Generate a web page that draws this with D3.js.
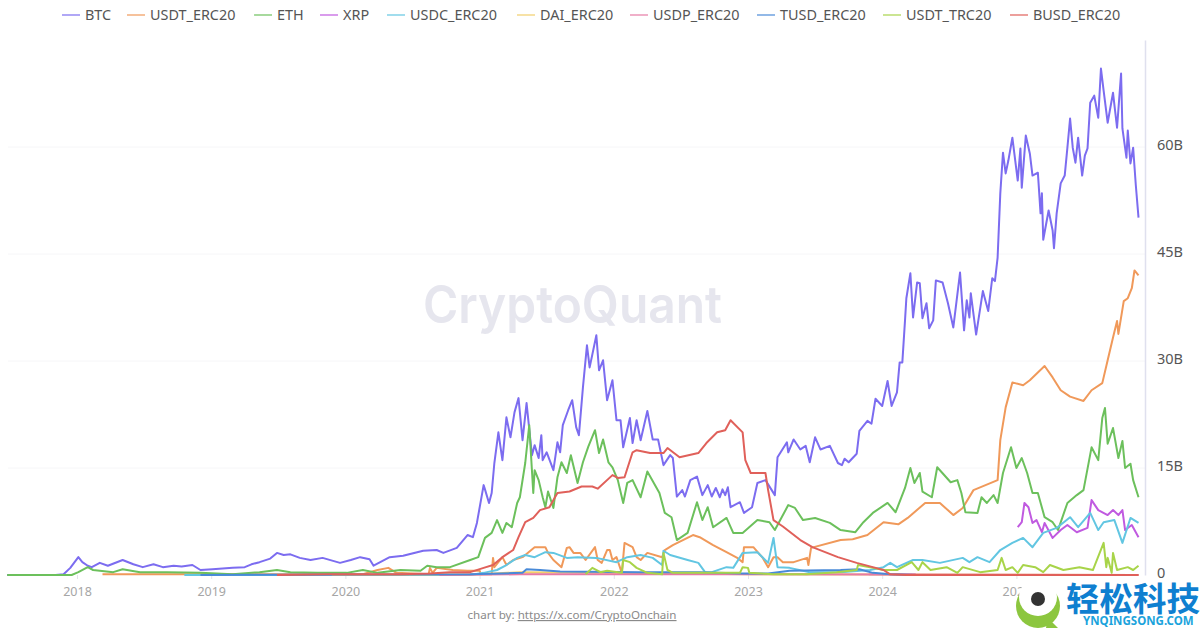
<!DOCTYPE html>
<html>
<head>
<meta charset="utf-8">
<script src="https://d3js.org/d3.v7.min.js"></script>
<style>
  html, body { margin: 0; padding: 0; background: #fff; }
  text { font-family: "Noto Sans", "Open Sans", sans-serif; }
</style>
</head>
<body>
<svg id="plot" width="1200" height="628"></svg>
<script>
// [year, billions]
const btc = [[2017.48,0],[2017.84,0],[2017.90,0.1],[2017.95,1.0],[2018.01,2.5],[2018.04,1.8],[2018.08,1.3],[2018.11,1.1],[2018.17,1.7],[2018.23,1.3],[2018.34,2.1],[2018.42,1.5],[2018.49,1.1],[2018.57,1.5],[2018.64,1.1],[2018.72,1.3],[2018.78,1.2],[2018.86,1.4],[2018.92,0.7],[2019.01,0.8],[2019.16,1.0],[2019.25,1.1],[2019.30,1.5],[2019.36,1.8],[2019.44,2.3],[2019.49,3.1],[2019.54,2.8],[2019.59,2.9],[2019.66,2.4],[2019.74,2.1],[2019.83,2.4],[2019.96,1.7],[2020.04,2.1],[2020.11,2.5],[2020.18,2.2],[2020.21,1.3],[2020.33,2.5],[2020.43,2.7],[2020.58,3.4],[2020.68,3.5],[2020.73,3.1],[2020.83,3.8],[2020.91,5.6],[2020.95,5.3],[2020.98,7.3],[2021.03,12.6],[2021.04,12.0],[2021.07,10.1],[2021.09,11.5],[2021.11,15.7],[2021.14,20.0],[2021.17,16.1],[2021.20,22.1],[2021.23,19.3],[2021.26,22.8],[2021.29,24.8],[2021.32,18.9],[2021.35,24.1],[2021.39,16.8],[2021.41,18.2],[2021.44,16.4],[2021.46,19.6],[2021.47,16.1],[2021.50,17.2],[2021.55,14.7],[2021.58,18.6],[2021.60,17.2],[2021.62,21.0],[2021.66,23.1],[2021.69,24.5],[2021.72,20.7],[2021.74,19.6],[2021.77,26.3],[2021.80,32.2],[2021.82,29.1],[2021.87,33.6],[2021.89,28.7],[2021.92,30.1],[2021.95,24.5],[2021.99,27.3],[2022.02,21.7],[2022.05,21.7],[2022.07,17.9],[2022.12,22.0],[2022.14,18.5],[2022.17,21.7],[2022.20,18.9],[2022.25,23.0],[2022.29,19.0],[2022.33,19.0],[2022.37,15.4],[2022.42,16.8],[2022.44,16.4],[2022.47,11.0],[2022.51,11.9],[2022.53,11.0],[2022.57,13.3],[2022.62,13.8],[2022.66,11.2],[2022.70,12.6],[2022.73,11.0],[2022.76,12.2],[2022.79,10.9],[2022.81,12.0],[2022.83,11.2],[2022.85,12.3],[2022.87,9.5],[2022.94,10.2],[2022.97,8.7],[2023.03,9.5],[2023.07,12.9],[2023.13,13.3],[2023.20,11.2],[2023.22,16.5],[2023.29,18.6],[2023.30,17.2],[2023.34,19.0],[2023.39,17.6],[2023.43,18.1],[2023.46,15.8],[2023.50,19.3],[2023.54,17.6],[2023.61,18.1],[2023.67,15.7],[2023.70,15.4],[2023.72,16.3],[2023.75,15.8],[2023.78,16.4],[2023.81,17.0],[2023.83,20.2],[2023.89,21.6],[2023.92,21.2],[2023.95,24.7],[2024.00,23.7],[2024.04,27.2],[2024.07,23.7],[2024.11,25.6],[2024.13,29.8],[2024.15,29.8],[2024.17,35.7],[2024.18,38.8],[2024.21,42.3],[2024.23,36.1],[2024.26,41.0],[2024.28,40.9],[2024.30,36.0],[2024.33,38.1],[2024.35,34.6],[2024.38,35.7],[2024.40,41.3],[2024.45,41.0],[2024.49,38.1],[2024.53,34.7],[2024.58,42.4],[2024.61,34.3],[2024.63,38.5],[2024.65,36.1],[2024.66,39.5],[2024.70,33.7],[2024.75,39.8],[2024.79,37.0],[2024.82,41.6],[2024.84,41.2],[2024.86,44.5],[2024.88,53.5],[2024.90,59.2],[2024.92,56.3],[2024.94,58.1],[2024.97,61.3],[2025.01,55.3],[2025.03,59.8],[2025.04,54.3],[2025.07,61.6],[2025.10,59.1],[2025.12,56.0],[2025.16,56.4],[2025.18,50.7],[2025.19,53.5],[2025.20,47.0],[2025.24,51.1],[2025.27,48.3],[2025.28,45.8],[2025.30,50.7],[2025.33,54.9],[2025.36,56.0],[2025.38,59.9],[2025.40,64.0],[2025.42,59.9],[2025.44,57.8],[2025.46,61.3],[2025.49,56.0],[2025.51,58.8],[2025.53,59.8],[2025.55,66.2],[2025.58,67.2],[2025.61,64.1],[2025.63,71.0],[2025.65,67.9],[2025.68,63.4],[2025.72,67.6],[2025.75,62.7],[2025.78,70.3],[2025.79,62.6],[2025.82,58.5],[2025.83,62.3],[2025.85,57.7],[2025.87,59.9],[2025.89,54.6],[2025.91,50.1]];

const usdtErc = [[2018.19,0.1],[2018.37,0.1],[2020.10,0.1],[2020.13,0.1],[2020.24,0.7],[2020.32,1.0],[2020.38,0.3],[2020.62,0.1],[2020.63,1.0],[2020.65,0.3],[2020.68,1.0],[2020.80,0.7],[2020.91,0.6],[2021.00,0.6],[2021.01,0.1],[2021.09,0.1],[2021.10,2.4],[2021.11,1.1],[2021.17,2.5],[2021.20,1.4],[2021.25,2.1],[2021.32,2.5],[2021.41,3.9],[2021.49,3.9],[2021.51,3.1],[2021.55,2.1],[2021.61,1.1],[2021.65,3.8],[2021.67,3.9],[2021.70,3.1],[2021.75,3.1],[2021.79,2.1],[2021.86,3.9],[2021.88,2.1],[2021.91,1.7],[2021.95,3.5],[2021.97,3.5],[2021.99,2.1],[2022.02,2.5],[2022.06,0.3],[2022.08,4.5],[2022.14,3.9],[2022.17,2.5],[2022.20,2.1],[2022.25,3.1],[2022.36,2.5],[2022.38,3.5],[2022.44,4.2],[2022.59,5.6],[2022.64,5.3],[2022.74,4.2],[2022.84,3.2],[2022.92,2.4],[2022.96,1.8],[2022.97,3.9],[2023.04,3.9],[2023.11,2.4],[2023.15,1.1],[2023.19,2.5],[2023.22,2.5],[2023.26,1.8],[2023.34,1.8],[2023.44,2.4],[2023.45,1.4],[2023.47,3.8],[2023.69,4.9],[2023.78,5.0],[2023.89,5.6],[2024.01,7.4],[2024.12,7.1],[2024.19,8.0],[2024.32,10.1],[2024.43,10.1],[2024.53,8.4],[2024.60,9.4],[2024.68,11.9],[2024.86,13.3],[2024.88,18.9],[2024.92,23.5],[2024.97,27.0],[2025.05,26.6],[2025.10,27.3],[2025.21,29.3],[2025.27,27.7],[2025.33,25.9],[2025.40,25.0],[2025.50,24.4],[2025.56,25.9],[2025.64,26.9],[2025.68,30.1],[2025.72,33.3],[2025.75,35.6],[2025.76,33.8],[2025.80,38.4],[2025.83,38.8],[2025.86,40.2],[2025.88,42.7],[2025.91,42.0]];

const eth = [[2017.48,0],[2017.96,0],[2018.01,0.4],[2018.08,1.1],[2018.12,0.7],[2018.27,0.4],[2018.34,0.8],[2018.47,0.4],[2018.67,0.4],[2018.92,0.3],[2019.16,0.1],[2019.36,0.4],[2019.49,0.7],[2019.59,0.4],[2019.79,0.3],[2020.01,0.3],[2020.13,0.7],[2020.24,0.3],[2020.41,0.7],[2020.56,0.6],[2020.61,1.3],[2020.68,1.1],[2020.78,1.1],[2020.93,2.1],[2020.99,2.5],[2021.04,5.2],[2021.09,5.9],[2021.13,7.7],[2021.17,5.9],[2021.20,7.3],[2021.24,6.7],[2021.28,10.1],[2021.30,10.9],[2021.34,15.7],[2021.37,21.0],[2021.40,11.5],[2021.41,14.7],[2021.44,13.3],[2021.47,10.9],[2021.49,9.5],[2021.51,11.7],[2021.55,9.4],[2021.58,13.7],[2021.61,15.8],[2021.65,14.3],[2021.68,16.8],[2021.73,12.9],[2021.77,15.8],[2021.81,18.0],[2021.86,20.3],[2021.89,17.1],[2021.92,19.0],[2021.96,15.8],[2021.99,15.1],[2022.03,13.3],[2022.07,10.1],[2022.10,12.9],[2022.14,13.3],[2022.20,10.9],[2022.25,14.5],[2022.34,11.5],[2022.38,8.7],[2022.43,8.1],[2022.47,4.9],[2022.55,5.9],[2022.62,10.2],[2022.66,7.7],[2022.70,9.5],[2022.74,6.7],[2022.84,8.0],[2022.89,5.9],[2022.96,5.9],[2023.07,7.7],[2023.16,7.4],[2023.20,6.3],[2023.30,9.8],[2023.35,9.4],[2023.41,7.7],[2023.50,8.0],[2023.61,7.3],[2023.69,6.3],[2023.80,6.0],[2023.86,7.4],[2023.93,8.7],[2024.04,10.1],[2024.10,8.8],[2024.17,12.2],[2024.21,15.0],[2024.24,12.9],[2024.28,14.3],[2024.30,11.7],[2024.37,10.9],[2024.41,15.1],[2024.51,13.0],[2024.56,13.3],[2024.59,11.5],[2024.62,8.8],[2024.71,8.7],[2024.74,10.9],[2024.78,10.1],[2024.83,11.2],[2024.86,10.1],[2024.90,14.3],[2024.96,17.9],[2025.00,15.0],[2025.04,16.4],[2025.08,14.3],[2025.12,11.5],[2025.16,11.5],[2025.21,8.1],[2025.27,7.4],[2025.31,6.3],[2025.38,10.1],[2025.45,11.2],[2025.50,11.9],[2025.56,17.9],[2025.61,16.1],[2025.64,22.0],[2025.66,23.4],[2025.68,18.4],[2025.72,20.6],[2025.76,16.4],[2025.79,18.8],[2025.81,15.0],[2025.85,15.6],[2025.87,13.3],[2025.91,10.9]];

const xrp = [[2023.90,0.1],[2024.25,0.1],[2024.26,NaN],[2025.01,6.7],[2025.04,7.4],[2025.06,10.1],[2025.09,9.5],[2025.12,7.3],[2025.15,7.7],[2025.19,6.0],[2025.21,7.3],[2025.27,5.2],[2025.33,6.3],[2025.38,7.0],[2025.45,6.0],[2025.53,6.6],[2025.56,10.5],[2025.61,9.1],[2025.68,8.4],[2025.72,9.1],[2025.76,8.4],[2025.79,9.1],[2025.81,6.3],[2025.86,7.0],[2025.91,5.3]];

const usdc = [[2018.80,0],[2020.93,0],[2021.03,0.3],[2021.13,0.7],[2021.20,1.4],[2021.28,2.4],[2021.34,2.8],[2021.41,2.5],[2021.49,3.2],[2021.55,3.1],[2021.65,2.4],[2021.73,2.5],[2021.87,2.4],[2022.02,1.8],[2022.10,2.5],[2022.20,2.8],[2022.29,2.4],[2022.36,1.4],[2022.37,3.4],[2022.42,2.8],[2022.55,2.1],[2022.63,1.7],[2022.68,0.4],[2022.73,0.4],[2022.84,1.1],[2022.89,1.0],[2022.96,3.1],[2023.07,3.2],[2023.15,1.7],[2023.19,5.2],[2023.22,1.1],[2023.31,1.0],[2023.46,0.4],[2023.69,0.4],[2023.91,0.7],[2024.01,1.1],[2024.06,1.7],[2024.11,1.1],[2024.23,2.1],[2024.30,2.1],[2024.43,1.7],[2024.60,2.4],[2024.65,1.8],[2024.71,2.5],[2024.80,1.8],[2024.88,3.5],[2024.97,4.5],[2025.05,5.2],[2025.12,3.9],[2025.20,5.9],[2025.30,6.6],[2025.40,8.1],[2025.46,6.7],[2025.55,8.7],[2025.61,6.3],[2025.65,7.4],[2025.73,7.7],[2025.79,4.5],[2025.85,8.0],[2025.91,7.3]];

const dai = [[2019.90,0],[2021.00,0.1],[2021.30,0.4],[2022.00,0.3],[2023.00,0.1],[2025.91,0]];

const usdp = [[2020.70,0],[2021.30,0.1],[2023.00,0.1],[2025.91,0]];

const tusd = [[2018.92,0],[2020.93,0.1],[2021.32,0.3],[2021.35,0.8],[2021.45,0.7],[2021.60,0.5],[2022.20,0.4],[2022.64,0.4],[2022.96,0.2],[2023.15,0.2],[2023.31,0.6],[2023.69,0.7],[2023.83,0.8],[2023.93,0.3],[2024.06,0.1],[2024.25,0]];

const usdtTrc = [[2021.79,0.1],[2021.84,1.0],[2021.90,0.4],[2021.95,0.6],[2022.06,0.3],[2022.07,2.1],[2022.12,1.8],[2022.17,1.0],[2022.25,0.3],[2022.36,0.1],[2022.37,3.1],[2022.40,0.7],[2022.44,0.3],[2022.94,0.3],[2022.96,1.1],[2023.00,1.0],[2023.01,0.3],[2023.19,0.1],[2023.44,0.1],[2023.66,0.4],[2023.81,0.7],[2023.82,1.4],[2023.93,1.0],[2024.01,0.7],[2024.11,0.7],[2024.22,1.8],[2024.27,0.7],[2024.30,1.8],[2024.36,0.7],[2024.48,1.1],[2024.56,0.3],[2024.60,1.1],[2024.73,0.4],[2024.86,0.7],[2024.89,2.4],[2024.92,0.7],[2024.97,1.1],[2025.01,0.3],[2025.05,1.4],[2025.14,1.1],[2025.20,0.4],[2025.25,1.4],[2025.35,0.7],[2025.47,1.1],[2025.57,0.7],[2025.65,4.5],[2025.67,1.1],[2025.68,2.4],[2025.71,0.3],[2025.72,3.1],[2025.75,0.7],[2025.83,1.1],[2025.87,0.7],[2025.91,1.3]];

const busd = [[2019.49,0],[2019.89,0.1],[2020.41,0.1],[2020.63,0.2],[2020.78,0.4],[2020.93,0.4],[2021.03,1.0],[2021.10,1.4],[2021.17,2.5],[2021.25,3.5],[2021.29,5.3],[2021.34,7.4],[2021.40,8.0],[2021.45,9.1],[2021.52,9.5],[2021.58,11.5],[2021.67,11.7],[2021.76,12.4],[2021.84,12.4],[2021.88,12.1],[2021.99,14.0],[2022.03,13.6],[2022.08,13.7],[2022.14,17.2],[2022.17,17.5],[2022.27,17.1],[2022.37,17.1],[2022.40,17.8],[2022.49,16.5],[2022.63,17.1],[2022.69,18.5],[2022.77,20.0],[2022.83,20.3],[2022.87,21.7],[2022.96,20.0],[2022.98,16.1],[2023.02,14.3],[2023.13,14.3],[2023.15,11.9],[2023.19,7.7],[2023.26,6.8],[2023.39,4.9],[2023.48,3.9],[2023.67,2.5],[2023.81,1.7],[2023.93,1.1],[2024.01,0.7],[2024.06,0.1],[2024.18,0],[2025.91,0]];

const seriesNames = ["BTC", "USDT_ERC20", "ETH", "XRP", "USDC_ERC20", "DAI_ERC20", "USDP_ERC20", "TUSD_ERC20", "USDT_TRC20", "BUSD_ERC20"];
const seriesData = [btc, usdtErc, eth, xrp, usdc, dai, usdp, tusd, usdtTrc, busd];
const seriesColors = ["#7b6cf0", "#f0995a", "#6cc05c", "#c05ae0", "#62c6e2", "#f2cf6b", "#e67aa5", "#4a8ad8", "#a8d44a", "#e0605a"];
const legendX = [62, 127, 254, 320, 387, 517, 630, 757, 883, 1010];

const yearTicks = [2018, 2019, 2020, 2021, 2022, 2023, 2024, 2025];
const valueTicks = [0, 15, 30, 45, 60];

const svg = d3.select("#plot");

const x = d3.scaleLinear().domain([2018, 2025]).range([77, 1016.4]);
const y = d3.scaleLinear().domain([0, 75]).range([575, 40]);
const leftEdge = 8, rightEdge = 1145;

function drawGrid()
{
  svg.append("g").selectAll("line")
    .data(valueTicks.slice(1))
    .join("line")
    .attr("x1", leftEdge).attr("x2", rightEdge)
    .attr("y1", d => y(d)).attr("y2", d => y(d))
    .attr("stroke", "#f6f6f8");
}

function drawWatermark()
{
  svg.append("text")
    .attr("x", 423).attr("y", 323)
    .attr("textLength", 299)
    .attr("lengthAdjust", "spacingAndGlyphs")
    .style("font-family", "Inter")
    .style("font-size", "52px")
    .style("font-weight", 600)
    .attr("fill", "#e6e6ee")
    .text("CryptoQuant");
}

function drawAxes()
{
  let xAxis = d3.axisBottom(x).tickValues(yearTicks).tickFormat(d3.format("d")).tickSize(4).tickSizeOuter(0);
  let gx = svg.append("g").attr("transform", "translate(0,575)").call(xAxis);
  gx.select(".domain").remove();
  gx.selectAll("line").attr("stroke", "#e4e4ea");
  gx.selectAll("text").attr("y", 12).attr("fill", "#a6a6a6").style("font-size", "12.5px");

  let yAxis = d3.axisRight(y).tickValues(valueTicks).tickFormat(d => d === 0 ? "0" : d + "B").tickSize(0).tickSizeOuter(0);
  let gy = svg.append("g").attr("transform", "translate(" + rightEdge + ",0)").call(yAxis);
  gy.select(".domain").attr("stroke", "#dfe0ee").attr("stroke-width", 1.5);
  gy.selectAll("text").attr("x", 12).attr("dy", "0.2em").attr("fill", "#555").style("font-size", "14.5px");
}

function drawLines()
{
  let line = d3.line()
    .defined(d => !isNaN(d[1]))
    .x(d => x(d[0]))
    .y(d => y(d[1]));

  // the reference is a soft upscaled screenshot, so take the edge off the lines
  let soft = svg.append("defs").append("filter")
    .attr("id", "soft")
    .attr("x", "-2%").attr("y", "-2%")
    .attr("width", "104%").attr("height", "104%");
  soft.append("feGaussianBlur").attr("stdDeviation", 0.35);

  svg.append("g")
    .attr("filter", "url(#soft)")
    .selectAll("path")
    .data(seriesData)
    .join("path")
    .attr("d", line)
    .attr("fill", "none")
    .attr("stroke", (d, i) => seriesColors[i])
    .attr("stroke-width", 2)
    .attr("stroke-linejoin", "round");
}

function drawLegend()
{
  let items = svg.append("g").selectAll("g")
    .data(seriesNames)
    .join("g")
    .attr("transform", (d, i) => "translate(" + legendX[i] + ",15)");

  items.append("line")
    .attr("x1", 0).attr("x2", 18)
    .attr("stroke", (d, i) => seriesColors[i])
    .attr("stroke-width", 1.6)
    .attr("opacity", 0.75);

  items.append("text")
    .attr("x", 23).attr("dy", "0.35em")
    .attr("fill", "#555")
    .style("font-size", "14.4px")
    .text(d => d);
}

function drawCredit()
{
  let credit = svg.append("text")
    .attr("x", 572).attr("y", 619)
    .attr("text-anchor", "middle")
    .attr("fill", "#8a8a8a")
    .style("font-size", "11.6px");
  credit.append("tspan").text("chart by: ");
  credit.append("tspan").attr("text-decoration", "underline").text("https://x.com/CryptoOnchain");
}

// site logo stamped over the corner, it hides part of the 2025 label
function drawStamp()
{
  let g = svg.append("g");
  g.append("path").attr("d", "M1048,618 L1058,628 L1046,628 Z").attr("fill", "#8cc63f");
  g.append("circle").attr("cx", 1038).attr("cy", 606).attr("r", 22).attr("fill", "#8cc63f");
  g.append("circle").attr("cx", 1038).attr("cy", 597).attr("r", 19).attr("fill", "#fff");
  g.append("circle").attr("cx", 1038).attr("cy", 599).attr("r", 7).attr("fill", "#333");
  g.append("text")
    .attr("x", 1066).attr("y", 611)
    .style("font-family", "'Noto Sans CJK SC'")
    .style("font-size", "33.5px")
    .style("font-weight", 700)
    .attr("fill", "#0f7fd0")
    .text("轻松科技");
  g.append("text")
    .attr("x", 1083).attr("y", 625)
    .style("font-size", "11.5px")
    .style("font-weight", 700)
    .attr("fill", "#1ba3dc")
    .text("YNQINGSONG.COM");
}

function init()
{
  drawGrid();
  drawWatermark();
  drawAxes();
  drawLines();
  drawLegend();
  drawCredit();
  drawStamp();
}

init();
</script>
</body>
</html>
